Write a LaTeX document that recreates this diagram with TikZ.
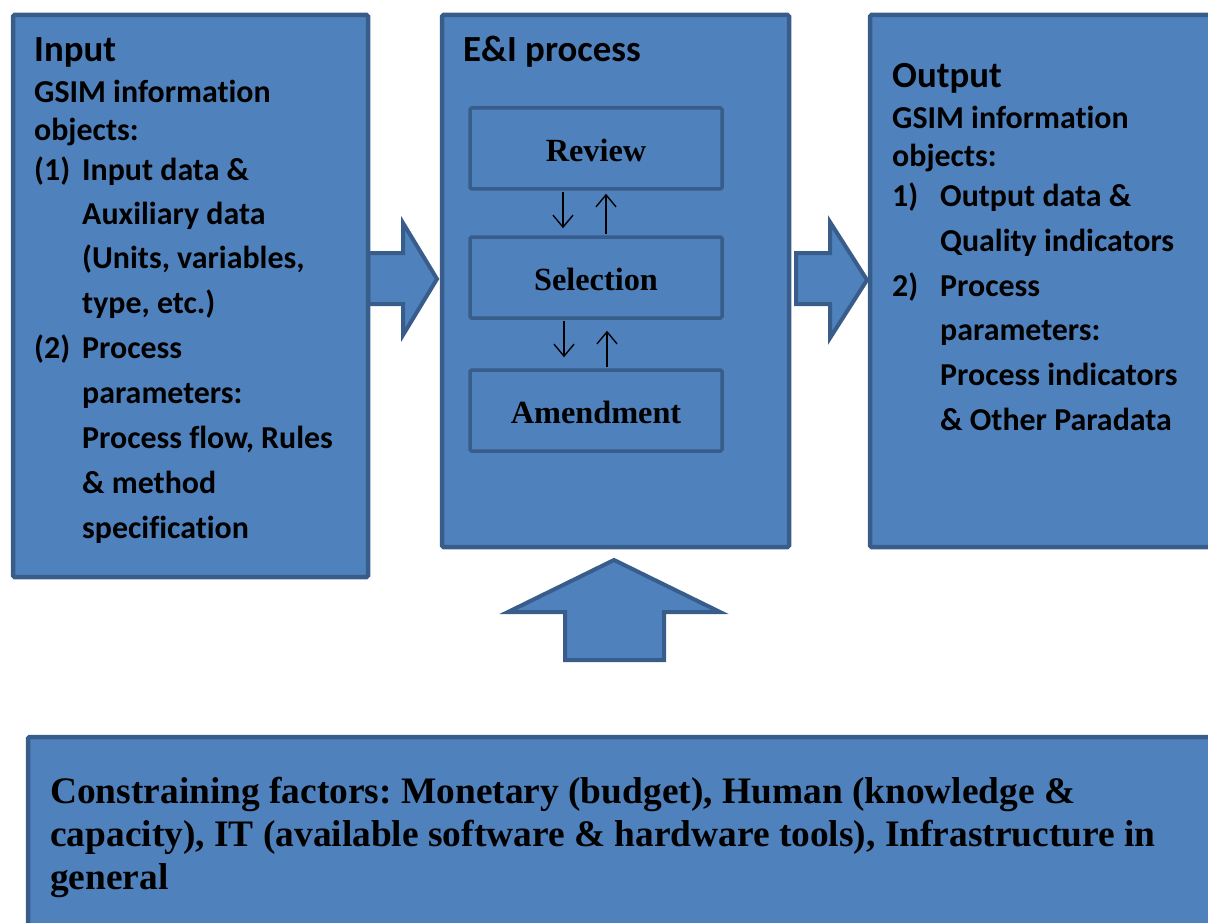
\documentclass[tikz,border=0pt]{standalone}
\usepackage{fontspec}
\setmainfont{Liberation Serif}
\newfontfamily\calfont{Carlito}[Ligatures=NoCommon]
\usetikzlibrary{arrows.meta}
\definecolor{boxfill}{HTML}{4F81BD}
\definecolor{boxline}{HTML}{385D8A}
\frenchspacing
\tikzset{
  bigbox/.style={draw=boxline, fill=boxfill, line width=4.5pt, rounded corners=1.5pt},
  innerbox/.style={draw=boxline, line width=3.5pt, rounded corners=1.5pt, inner sep=0pt,
    minimum width=252pt, minimum height=81pt, text height=25pt, text depth=0pt,
    font=\fontsize{32.3}{36}\selectfont\bfseries},
  blockarrow/.style={draw=boxline, fill=boxfill, line width=4pt, line join=miter},
  smallarrow/.style={line width=1.4pt, -{Straight Barb[length=12pt,width=20pt,line width=1.4pt]}},
  ttl/.style={anchor=base west, inner sep=0pt, font=\calfont\fontsize{36.8}{40}\selectfont\bfseries},
  txt/.style={anchor=base west, inner sep=0pt, font=\calfont\fontsize{31.9}{38}\selectfont\bfseries},
  btxt/.style={anchor=base west, inner sep=0pt, font=\fontsize{37.4}{43}\selectfont\bfseries}
}
\begin{document}
\begin{tikzpicture}[x=1pt,y=-1pt]
\useasboundingbox (0,0) rectangle (1208,923);
\clip (0,0) rectangle (1208,923);
% block arrows
\draw[blockarrow] (368,253) -- (403,253) -- (403,223) -- (437,279) -- (403,335) -- (403,304) -- (368,304) -- cycle;
\draw[blockarrow] (796,253) -- (830,253) -- (830,222) -- (867,280) -- (830,338) -- (830,304) -- (796,304) -- cycle;
\draw[blockarrow] (614,560) -- (720,612) -- (664,612) -- (664,660) -- (565,660) -- (565,612) -- (508,612) -- cycle;
% big boxes
\draw[bigbox] (13,15) rectangle (368,577);
\node[inner sep=0pt] (inbox) at (190.5,296) {};
\draw[bigbox] (442,15) rectangle (789,547);
\node[inner sep=0pt] (eibox) at (615.5,281) {};
\draw[bigbox] (870,15) rectangle (1220,547);
\node[inner sep=0pt] (outbox) at (1045,281) {};
\draw[bigbox] (28,737) rectangle (1220,940);
\node[inner sep=0pt] (cbox) at (624,838) {};
% input text
\node[ttl] (inT) at (34,62) {Input};
\node[txt] (in1) at (34,103) {GSIM information};
\node[txt] (in2) at (34,141) {objects:};
\node[txt] (in3n) at (34,180) {(1)};
\node[txt] (in3) at (82,180) {Input data \&};
\node[txt] (in4) at (82,224) {Auxiliary data};
\node[txt] (in5) at (82,268) {(Units, variables,};
\node[txt] (in6) at (82,313) {type, etc.)};
\node[txt] (in7n) at (34,358) {(2)};
\node[txt] (in7) at (82,358) {Process};
\node[txt] (in8) at (82,403) {parameters:};
\node[txt] (in9) at (82,448) {Process flow, Rules};
\node[txt] (in10) at (82,493) {\& method};
\node[txt] (in11) at (82,538) {specification};
% E&I
\node[ttl] (eiT) at (463,62) {E\&I process};
\node[innerbox] (review) at (596,148.5) {Review};
\node[innerbox] (sel) at (596,277.5) {Selection};
\node[innerbox] (amend) at (596,410.5) {Amendment};
\draw[smallarrow, shorten <=1pt, shorten >=7pt] ([xshift=-33pt]review.south) -- ([xshift=-33pt]sel.north);
\draw[smallarrow, shorten <=1pt, shorten >=3pt] ([xshift=10pt]sel.north) -- ([xshift=10pt]review.south);
\draw[smallarrow, shorten <=1pt, shorten >=11pt] ([xshift=-32pt]sel.south) -- ([xshift=-32pt]amend.north);
\draw[smallarrow, shorten <=1pt, shorten >=11pt] ([xshift=11pt]amend.north) -- ([xshift=11pt]sel.south);
% output text
\node[ttl] (outT) at (892,88) {Output};
\node[txt] (o1) at (892,129) {GSIM information};
\node[txt] (o2) at (892,167) {objects:};
\node[txt] (o3n) at (892,206) {1)};
\node[txt] (o3) at (940,206) {Output data \&};
\node[txt] (o4) at (940,251) {Quality indicators};
\node[txt] (o5n) at (892,296) {2)};
\node[txt] (o5) at (940,296) {Process};
\node[txt] (o6) at (940,340) {parameters:};
\node[txt] (o7) at (940,385) {Process indicators};
\node[txt] (o8) at (940,430) {\& Other Paradata};
% constraints text
\node[btxt] (c1) at (50,803) {Constraining factors: Monetary (budget), Human (knowledge \&};
\node[btxt] (c2) at (50,846) {capacity), IT (available software \& hardware tools), Infrastructure in};
\node[btxt] (c3) at (50,889) {general};
\end{tikzpicture}
\end{document}
